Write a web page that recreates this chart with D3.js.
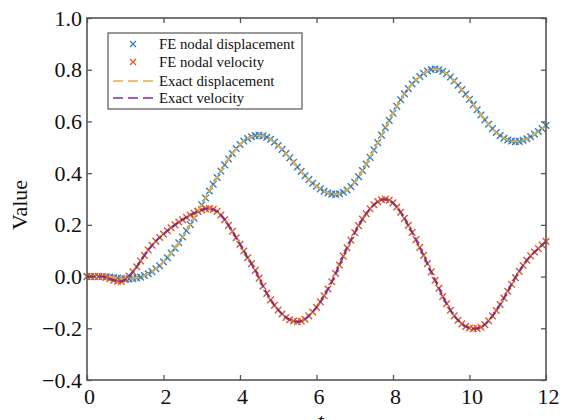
<!DOCTYPE html>
<html>
<head>
<meta charset="utf-8">
<script src="https://cdn.jsdelivr.net/npm/d3@7"></script>
<style>
  body { margin: 0; background: #fff; }
  text { font-family: "Liberation Serif", "Times New Roman", serif; }
</style>
</head>
<body>
<div id="chart"></div>
<script>
// time samples (t), every 0.1
var tValues = [
  0.0, 0.1, 0.2, 0.3, 0.4, 0.5, 0.6, 0.7, 0.8, 0.9,
  1.0, 1.1, 1.2, 1.3, 1.4, 1.5, 1.6, 1.7, 1.8, 1.9,
  2.0, 2.1, 2.2, 2.3, 2.4, 2.5, 2.6, 2.7, 2.8, 2.9,
  3.0, 3.1, 3.2, 3.3, 3.4, 3.5, 3.6, 3.7, 3.8, 3.9,
  4.0, 4.1, 4.2, 4.3, 4.4, 4.5, 4.6, 4.7, 4.8, 4.9,
  5.0, 5.1, 5.2, 5.3, 5.4, 5.5, 5.6, 5.7, 5.8, 5.9,
  6.0, 6.1, 6.2, 6.3, 6.4, 6.5, 6.6, 6.7, 6.8, 6.9,
  7.0, 7.1, 7.2, 7.3, 7.4, 7.5, 7.6, 7.7, 7.8, 7.9,
  8.0, 8.1, 8.2, 8.3, 8.4, 8.5, 8.6, 8.7, 8.8, 8.9,
  9.0, 9.1, 9.2, 9.3, 9.4, 9.5, 9.6, 9.7, 9.8, 9.9,
  10.0, 10.1, 10.2, 10.3, 10.4, 10.5, 10.6, 10.7, 10.8, 10.9,
  11.0, 11.1, 11.2, 11.3, 11.4, 11.5, 11.6, 11.7, 11.8, 11.9,
  12.0
];

// nodal displacement (FE and exact coincide at this scale)
var displacement = [
  0, 0, 0, 0, 0, -0.001, -0.002, -0.004, -0.006, -0.008,
  -0.009, -0.009, -0.008, -0.005, -0.002, 0.004, 0.011, 0.019, 0.030, 0.042,
  0.057, 0.073, 0.091, 0.110, 0.131, 0.153, 0.177, 0.201, 0.226, 0.252,
  0.278, 0.304, 0.331, 0.357, 0.383, 0.408, 0.432, 0.455, 0.476, 0.495,
  0.511, 0.524, 0.534, 0.541, 0.545, 0.546, 0.544, 0.539, 0.531, 0.520,
  0.507, 0.492, 0.476, 0.459, 0.442, 0.424, 0.407, 0.390, 0.375, 0.361,
  0.349, 0.339, 0.330, 0.323, 0.319, 0.318, 0.320, 0.326, 0.335, 0.348,
  0.365, 0.386, 0.410, 0.435, 0.461, 0.490, 0.518, 0.547, 0.576, 0.604,
  0.632, 0.659, 0.684, 0.707, 0.727, 0.745, 0.760, 0.774, 0.786, 0.795,
  0.801, 0.803, 0.800, 0.794, 0.785, 0.772, 0.757, 0.740, 0.723, 0.705,
  0.686, 0.665, 0.645, 0.625, 0.606, 0.589, 0.572, 0.557, 0.545, 0.535,
  0.528, 0.524, 0.522, 0.523, 0.527, 0.533, 0.541, 0.551, 0.561, 0.572,
  0.584
];

// nodal velocity
var velocity = [
  0, 0, 0, 0, 0, -0.003, -0.008, -0.014, -0.018, -0.019,
  -0.011, 0.002, 0.018, 0.038, 0.060, 0.082, 0.103, 0.121, 0.137, 0.151,
  0.164, 0.177, 0.189, 0.200, 0.211, 0.220, 0.229, 0.238, 0.245, 0.252,
  0.258, 0.262, 0.263, 0.260, 0.252, 0.238, 0.220, 0.198, 0.175, 0.150,
  0.125, 0.099, 0.073, 0.050, 0.024, -0.006, -0.037, -0.065, -0.090, -0.111,
  -0.129, -0.145, -0.158, -0.167, -0.172, -0.175, -0.173, -0.165, -0.152, -0.137,
  -0.119, -0.098, -0.074, -0.048, -0.020, 0.012, 0.045, 0.079, 0.111, 0.141,
  0.170, 0.197, 0.222, 0.243, 0.262, 0.278, 0.290, 0.297, 0.299, 0.295,
  0.285, 0.269, 0.249, 0.225, 0.198, 0.171, 0.143, 0.113, 0.082, 0.050,
  0.018, -0.014, -0.045, -0.077, -0.105, -0.130, -0.152, -0.169, -0.183, -0.193,
  -0.199, -0.202, -0.201, -0.196, -0.186, -0.171, -0.152, -0.131, -0.108, -0.083,
  -0.057, -0.030, -0.004, 0.020, 0.043, 0.063, 0.080, 0.095, 0.108, 0.122,
  0.136
];

var xTicks = [0, 2, 4, 6, 8, 10, 12];
var yTicks = [-0.4, -0.2, 0.0, 0.2, 0.4, 0.6, 0.8, 1.0];

var legendLabels = ["FE nodal displacement", "FE nodal velocity", "Exact displacement", "Exact velocity"];

var colBlue = "#2f7fc6", colRed = "#dd5a22", colYellow = "#e8ad3a", colPurple = "#7e2f8e";
var frameColor = "#555";

// plot area
var margin = {top: 18, right: 15, bottom: 40, left: 87},
    width = 546 - margin.left,
    height = 380 - margin.top;

var svg = d3.select("#chart")
  .append("svg")
    .attr("width", 561)
    .attr("height", 420)
  .append("g")
    .attr("transform", "translate(" + margin.left + "," + margin.top + ")");

var x = d3.scaleLinear().domain([0, 12]).range([0, width]);
var y = d3.scaleLinear().domain([-0.4, 1.0]).range([height, 0]);

var pts = tValues.map(function(t, i) { return {t: t, d: displacement[i], v: velocity[i]}; });

// FE markers (x shapes)
function cross(s) { return "M" + (-s) + "," + (-s) + "L" + s + "," + s + "M" + (-s) + "," + s + "L" + s + "," + (-s); }

svg.append("g").selectAll("path")
  .data(pts).enter().append("path")
    .attr("transform", function(d) { return "translate(" + x(d.t) + "," + y(d.d) + ")"; })
    .attr("d", cross(3.3))
    .attr("stroke", colBlue).attr("stroke-width", 1.4).attr("fill", "none");

svg.append("g").selectAll("path")
  .data(pts).enter().append("path")
    .attr("transform", function(d) { return "translate(" + x(d.t) + "," + y(d.v) + ")"; })
    .attr("d", cross(3.3))
    .attr("stroke", colRed).attr("stroke-width", 1.4).attr("fill", "none");

// exact solutions (dashed)
var lineD = d3.line().x(function(d) { return x(d.t); }).y(function(d) { return y(d.d); });
var lineV = d3.line().x(function(d) { return x(d.t); }).y(function(d) { return y(d.v); });

svg.append("path").datum(pts)
  .attr("d", lineD).attr("fill", "none")
  .attr("stroke", colYellow).attr("stroke-width", 2).attr("stroke-dasharray", "8,3");
svg.append("path").datum(pts)
  .attr("d", lineV).attr("fill", "none")
  .attr("stroke", colPurple).attr("stroke-width", 2).attr("stroke-dasharray", "8,3");

// axes, ticks inward on all four sides
function styleAxis(g) {
  g.select(".domain").remove();
  g.selectAll(".tick line").attr("stroke", frameColor).attr("stroke-width", 1.3);
  g.selectAll("text").attr("font-size", 22).attr("fill", "#111")
    .style("font-family", "'Liberation Serif', 'Times New Roman', serif");
}

svg.append("g")
  .attr("transform", "translate(0," + height + ")")
  .call(d3.axisBottom(x).tickValues(xTicks).tickSizeInner(-5).tickSizeOuter(0).tickPadding(8).tickFormat(d3.format("d")))
  .call(styleAxis)
  .selectAll("text").attr("dx", 2);

svg.append("g")
  .call(d3.axisTop(x).tickValues(xTicks).tickSizeInner(-5).tickSizeOuter(0).tickFormat(""))
  .call(styleAxis);

svg.append("g")
  .call(d3.axisLeft(y).tickValues(yTicks).tickSizeInner(-5).tickSizeOuter(0).tickPadding(5).tickFormat(d3.format(".1f")))
  .call(styleAxis);

svg.append("g")
  .attr("transform", "translate(" + width + ",0)")
  .call(d3.axisRight(y).tickValues(yTicks).tickSizeInner(-5).tickSizeOuter(0).tickFormat(""))
  .call(styleAxis);

// frame
svg.append("rect")
  .attr("x", 0).attr("y", 0).attr("width", width).attr("height", height)
  .attr("fill", "none").attr("stroke", frameColor).attr("stroke-width", 1.6);

// axis titles
svg.append("text")
  .attr("transform", "translate(" + (27 - margin.left) + "," + (205 - margin.top) + ") rotate(-90)")
  .attr("text-anchor", "middle")
  .attr("font-size", 22).attr("fill", "#111")
  .text("Value");

// the t label sits partly below the bottom edge, as in the original
svg.append("text")
  .attr("x", width / 2 + 4).attr("y", 428 - margin.top)
  .attr("text-anchor", "middle")
  .attr("font-size", 22).attr("font-style", "italic").attr("fill", "#111")
  .text("t");

// legend
var legend = svg.append("g").attr("transform", "translate(" + (108 - margin.left) + "," + (33 - margin.top) + ")");
legend.append("rect")
  .attr("width", 194).attr("height", 76)
  .attr("fill", "#fff").attr("stroke", frameColor).attr("stroke-width", 1.2);

var rowY = [11, 29, 48, 65];
var legendColors = [colBlue, colRed, colYellow, colPurple];

legendLabels.forEach(function(label, i) {
  if (i < 2) {
    legend.append("path")
      .attr("transform", "translate(25," + rowY[i] + ")")
      .attr("d", cross(3))
      .attr("stroke", legendColors[i]).attr("stroke-width", 1.3).attr("fill", "none");
  } else {
    legend.append("line")
      .attr("x1", 5).attr("x2", 47).attr("y1", rowY[i]).attr("y2", rowY[i])
      .attr("stroke", legendColors[i]).attr("stroke-width", 1.6).attr("stroke-dasharray", "10,5");
  }
  legend.append("text")
    .attr("x", 51).attr("y", rowY[i] + 5)
    .attr("font-size", 14.8).attr("fill", "#111")
    .text(label);
});
</script>
</body>
</html>
